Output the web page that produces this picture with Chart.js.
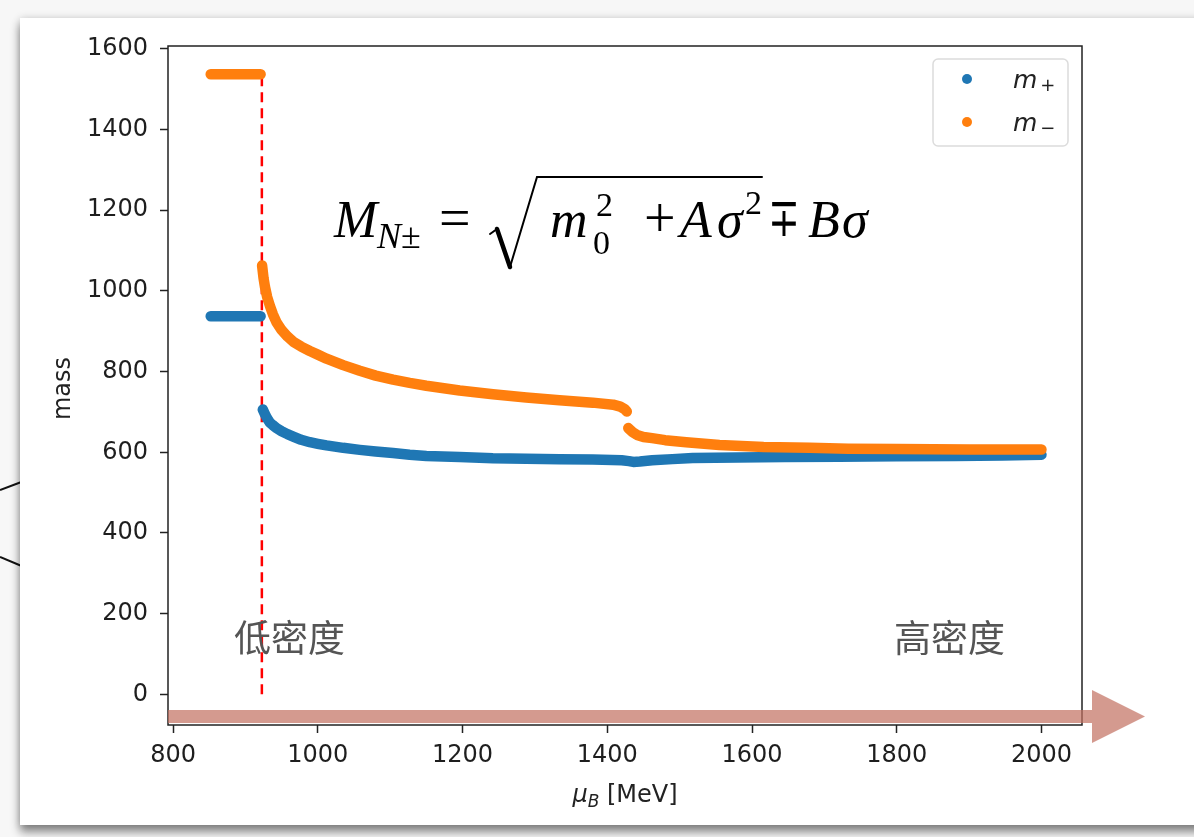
<!DOCTYPE html>
<html>
<head>
<meta charset="utf-8">
<script src="https://cdn.jsdelivr.net/npm/chart.js@4.4.1/dist/chart.umd.min.js"></script>
<style>
  html, body { margin: 0; padding: 0; }
  body { width: 1194px; height: 837px; background: #f7f7f7; position: relative; overflow: hidden; }
  #back { position: absolute; left: 0; top: 0; }
  #card { position: absolute; left: 20px; top: 18px; width: 1200px; height: 807px; background: #fff;
          box-shadow: 0 7px 9px rgba(0,0,0,0.45), 0 0 8px rgba(0,0,0,0.15); }
  #myChart { position: absolute; left: 0; top: 0; }
</style>
</head>
<body>
<svg id="back" width="40" height="837">
  <line x1="0" y1="490" x2="24" y2="481" stroke="#111" stroke-width="2"/>
  <line x1="0" y1="557" x2="24" y2="567" stroke="#111" stroke-width="2"/>
</svg>
<div id="card"></div>
<canvas id="myChart" width="1194" height="837"></canvas>
<script>
// Data

var xTicks = [800, 1000, 1200, 1400, 1600, 1800, 2000];
var yTicks = [0, 200, 400, 600, 800, 1000, 1200, 1400, 1600];

// m+ : flat part, gap, then the curve
var muPlus = [852, 921, 922, 924, 927, 930, 934, 938, 943, 950, 958, 966, 977, 989, 1000, 1012, 1035, 1058,
    1080, 1104, 1127, 1150, 1196, 1242, 1288, 1334, 1380, 1420, 1430, 1436, 1445, 1462, 1490, 1518, 1580,
    1645, 1720, 1800, 1880, 1946, 2000];
var mPlus = [937, 937, null, 706, 694, 684, 673, 667, 660, 652, 645, 639, 631, 625, 621, 617, 611, 606,
    602, 598, 594, 591, 588, 585, 584, 583, 582, 580, 578, 576, 577, 580, 583, 586, 587,
    588, 589, 590, 591, 592, 594];

// m- : flat part, gap, curve, small gap at the jump
var muMinus = [852, 921, 922, 923, 925, 927, 930, 934, 938, 943, 950, 958, 966, 977, 989, 1000, 1012, 1035,
    1058, 1080, 1104, 1127, 1150, 1196, 1242, 1288, 1334, 1380, 1408, 1418, 1424, 1427, 1428, 1429, 1435,
    1441, 1450, 1462, 1480, 1509, 1555, 1616, 1680, 1733, 1800, 1900, 2000];
var mMinus = [1537, 1537, null, 1063, 1032, 1010, 985, 962, 942, 922, 903, 887, 874, 862, 851, 842, 832, 816,
    802, 790, 780, 772, 765, 753, 744, 736, 729, 723, 718, 713, 707, 701, null, 660, 650,
    643, 638, 635, 630, 625, 618, 613, 611, 609, 608, 607, 607];

// red dashed line
var muCut = 922.7;
var cutLow = 0;
var cutHigh = 1537;

function toPoints(xs, ys) {
    return xs.map(function (v, i) { return { x: v, y: ys[i] }; });
}

// Drawing helpers

var serif = '"Liberation Serif", "DejaVu Serif", serif';

function put(ctx, text, font, x, y) {
    ctx.font = font;
    ctx.fillText(text, x, y);
    return x + ctx.measureText(text).width;
}

var decor = {
    id: 'decor',
    afterDraw: function (chart) {
        var ctx = chart.ctx;
        var a = chart.chartArea;
        ctx.save();

        // frame
        ctx.strokeStyle = '#222';
        ctx.lineWidth = 1.5;
        ctx.strokeRect(a.left, a.top, a.right - a.left, a.bottom - a.top);

        // axis titles
        ctx.fillStyle = '#222';
        ctx.textAlign = 'left';
        ctx.textBaseline = 'alphabetic';
        ctx.font = 'italic 24px "DejaVu Sans"';
        var w1 = ctx.measureText('\u03bc').width;
        ctx.font = 'italic 17px "DejaVu Sans"';
        var w2 = ctx.measureText('B').width;
        ctx.font = '24px "DejaVu Sans"';
        var w3 = ctx.measureText(' [MeV]').width;
        var tx = (a.left + a.right) / 2 - (w1 + w2 + w3) / 2;
        tx = put(ctx, '\u03bc', 'italic 24px "DejaVu Sans"', tx, 802);
        tx = put(ctx, 'B', 'italic 17px "DejaVu Sans"', tx, 807);
        put(ctx, ' [MeV]', '24px "DejaVu Sans"', tx, 802);

        ctx.save();
        ctx.translate(64, (a.top + a.bottom) / 2 + 3);
        ctx.rotate(-Math.PI / 2);
        ctx.textAlign = 'center';
        ctx.textBaseline = 'middle';
        ctx.font = '24px "DejaVu Sans"';
        ctx.fillText('mass', 0, 0);
        ctx.restore();

        // legend
        var lx = a.right - 149, ly = a.top + 13;
        ctx.beginPath();
        ctx.roundRect(lx, ly, 135, 87, 5);
        ctx.fillStyle = 'rgba(255,255,255,0.9)';
        ctx.fill();
        ctx.strokeStyle = '#dcdcdc';
        ctx.lineWidth = 1.5;
        ctx.stroke();
        var sets = chart.data.datasets;
        [0, 1].forEach(function (i) {
            var cy = ly + 20 + i * 43;
            ctx.beginPath();
            ctx.arc(lx + 34, cy, 5, 0, Math.PI * 2);
            ctx.fillStyle = sets[i].borderColor;
            ctx.fill();
            ctx.fillStyle = '#222';
            var ex = put(ctx, 'm', 'italic 25px "DejaVu Sans"', lx + 80, cy + 9);
            put(ctx, i === 0 ? '+' : '\u2212', '18px "DejaVu Sans"', ex + 3, cy + 12);
        });

        // formula
        ctx.fillStyle = '#000';
        var base = 237;
        put(ctx, 'M', 'italic 52px ' + serif, 334, base);
        var nx = put(ctx, 'N', 'italic 36px ' + serif, 377, base + 11);
        put(ctx, '\u00b1', '36px ' + serif, nx, base + 11);
        put(ctx, '=', '56px ' + serif, 439, base);
        ctx.strokeStyle = '#000';
        ctx.lineCap = 'round';
        ctx.lineWidth = 2;
        ctx.beginPath(); ctx.moveTo(490, 234); ctx.lineTo(497, 229); ctx.stroke();
        ctx.lineWidth = 4.5;
        ctx.beginPath(); ctx.moveTo(497, 229); ctx.lineTo(510, 267); ctx.stroke();
        ctx.lineWidth = 2;
        ctx.beginPath(); ctx.moveTo(510, 267); ctx.lineTo(537, 177); ctx.lineTo(762, 177); ctx.stroke();
        put(ctx, 'm', 'italic 52px ' + serif, 550, base);
        put(ctx, '2', '34px ' + serif, 596, base - 21);
        put(ctx, '0', '34px ' + serif, 593, base + 17);
        put(ctx, '+', '56px ' + serif, 644, base);
        put(ctx, 'A', 'italic 52px ' + serif, 680, base);
        put(ctx, '\u03c3', 'italic 52px ' + serif, 717, base);
        put(ctx, '2', '34px ' + serif, 745, base - 23);
        ctx.save();
        ctx.translate(768, base);
        ctx.scale(0.7, 1);
        put(ctx, '\u2213', '54px "DejaVu Serif"', 0, -1);
        ctx.restore();
        put(ctx, 'B', 'italic 52px ' + serif, 808, base);
        put(ctx, '\u03c3', 'italic 52px ' + serif, 842, base);

        // density labels
        ctx.fillStyle = '#555';
        put(ctx, '\u4f4e\u5bc6\u5ea6', '37px "Noto Sans CJK SC"', 234, 652);
        put(ctx, '\u9ad8\u5bc6\u5ea6', '37px "Noto Sans CJK SC"', 894, 652);

        // arrow
        ctx.fillStyle = 'rgba(194,111,96,0.7)';
        ctx.beginPath();
        ctx.moveTo(a.left, a.bottom - 15);
        ctx.lineTo(1092, a.bottom - 15);
        ctx.lineTo(1092, a.bottom - 35);
        ctx.lineTo(1145, a.bottom - 8.5);
        ctx.lineTo(1092, a.bottom + 18);
        ctx.lineTo(1092, a.bottom - 2);
        ctx.lineTo(a.left, a.bottom - 2);
        ctx.closePath();
        ctx.fill();

        ctx.restore();
    }
};

// Chart

var tickFont = { family: 'DejaVu Sans', size: 24 };

var ctx = document.getElementById('myChart').getContext('2d');
var chart = new Chart(ctx, {
    type: 'scatter',
    data: {
        datasets: [{
                label: 'm+',
                data: toPoints(muPlus, mPlus),
                borderColor: '#1f77b4',
                backgroundColor: '#1f77b4',
                showLine: true,
                borderWidth: 10.5,
                borderCapStyle: 'round',
                borderJoinStyle: 'round',
                pointRadius: 0,
                order: 2,
            },
            {
                label: 'm-',
                data: toPoints(muMinus, mMinus),
                borderColor: '#ff7f0e',
                backgroundColor: '#ff7f0e',
                showLine: true,
                borderWidth: 10.5,
                borderCapStyle: 'round',
                borderJoinStyle: 'round',
                pointRadius: 0,
                order: 1,
            },
            {
                label: 'cut',
                data: [{ x: muCut, y: cutLow }, { x: muCut, y: cutHigh }],
                borderColor: '#ff0000',
                showLine: true,
                borderWidth: 2.5,
                borderDash: [10, 6],
                pointRadius: 0,
                order: 3,
            }
        ]
    },
    options: {
        responsive: false,
        animation: false,
        layout: { padding: { left: 0, top: 46, right: 112, bottom: 0 } },
        plugins: {
            legend: { display: false },
            tooltip: { enabled: false }
        },
        scales: {
            x: {
                type: 'linear',
                min: 793,
                max: 2056,
                afterBuildTicks: function (s) { s.ticks = xTicks.map(function (v) { return { value: v }; }); },
                afterFit: function (s) { s.height = 112; },
                border: { display: false },
                grid: { drawOnChartArea: false, tickLength: 8, tickColor: '#222', tickWidth: 1.5 },
                ticks: { color: '#1e1e1e', font: tickFont, padding: 8, maxRotation: 0, autoSkip: false,
                    callback: function (v) { return String(v); } }
            },
            y: {
                type: 'linear',
                min: -76,
                max: 1607,
                afterBuildTicks: function (s) { s.ticks = yTicks.map(function (v) { return { value: v }; }); },
                afterFit: function (s) { s.width = 168; },
                border: { display: false },
                grid: { drawOnChartArea: false, tickLength: 8, tickColor: '#222', tickWidth: 1.5 },
                ticks: { color: '#1e1e1e', font: tickFont, padding: 12, autoSkip: false,
                    callback: function (v) { return String(v); } }
            }
        }
    },
    plugins: [decor]
});
</script>
</body>
</html>
